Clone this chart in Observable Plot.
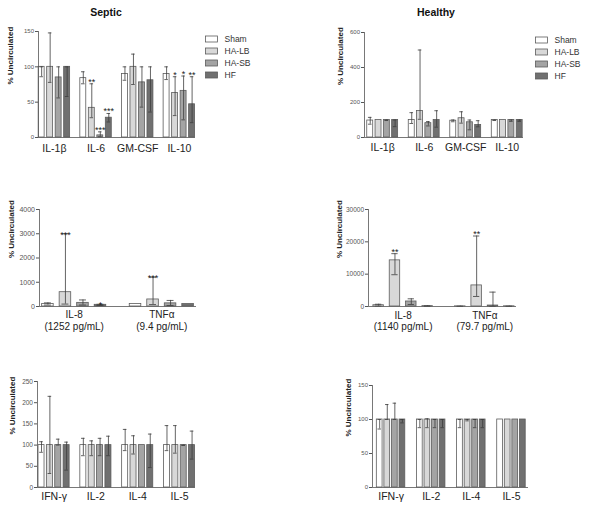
<!DOCTYPE html>
<html><head><meta charset="utf-8">
<script src="https://cdn.jsdelivr.net/npm/d3@7"></script>
<script src="https://cdn.jsdelivr.net/npm/@observablehq/plot@0.6"></script>
<style>
html,body{margin:0;padding:0;background:#fff;}
#root{position:relative;width:591px;height:511px;overflow:hidden;font-family:"Liberation Sans",Arial,sans-serif;background:#fff;}
.panel{position:absolute;}
.panel svg{display:block;overflow:visible;max-width:none !important;}
.title{position:absolute;font-weight:bold;font-size:10.5px;line-height:13px;text-align:center;width:100px;color:#111;}
</style></head><body><div id="root"></div>
<script>
// ---------- data ----------
const series = ["Sham", "HA-LB", "HA-SB", "HF"];

// Septic, top panel
const septicTopCats = ["IL-1β", "IL-6", "GM-CSF", "IL-10"];
const septicTopMean = [[100,100,85,100],[84,42,3,28],[90,100,78,81],[90,63,66,47]];
const septicTopLow  = [[86,78,56,58],[76,28,1,22],[81,75,43,36],[82,31,25,21]];
const septicTopHigh = [[100,148,100,100],[93,76,8,34],[100,118,100,100],[100,86,87,86]];
const septicTopStars = [["","","",""],["","**","***","***"],["","","",""],["","*","*","**"]];
const septicTopTicks = [0, 50, 100, 150];

// Healthy, top panel
const healthyTopCats = ["IL-1β", "IL-6", "GM-CSF", "IL-10"];
const healthyTopMean = [[97,100,100,100],[100,151,82,100],[96,110,87,72],[100,100,100,100]];
const healthyTopLow  = [[76,100,97,62],[80,104,66,59],[90,82,44,61],[97,100,92,92]];
const healthyTopHigh = [[115,100,100,100],[142,500,91,153],[100,147,100,96],[100,100,100,100]];
const healthyTopTicks = [0, 200, 400, 600];

// Septic, middle panel
const septicMidCats = ["IL-8", "TNFα"];
const septicMidConc = ["1252 pg/mL", "9.4 pg/mL"];
const septicMidMean = [[100,590,150,70],[100,290,130,100]];
const septicMidLow  = [[60,100,60,40],[100,80,40,100]];
const septicMidHigh = [[150,3000,270,90],[100,1210,250,100]];
const septicMidStars = [["","***","","*"],["","***","",""]];
const septicMidTicks = [0, 1000, 2000, 3000, 4000];

// Healthy, middle panel
const healthyMidCats = ["IL-8", "TNFα"];
const healthyMidConc = ["1140 pg/mL", "79.7 pg/mL"];
const healthyMidMean = [[400,14270,1550,100],[50,6520,300,50]];
const healthyMidLow  = [[100,9830,620,0],[0,3100,0,0]];
const healthyMidHigh = [[700,16340,2380,200],[100,21800,4450,100]];
const healthyMidStars = [["","**","",""],["","**","",""]];
const healthyMidTicks = [0, 10000, 20000, 30000];

// Septic, bottom panel
const septicBotCats = ["IFN-γ", "IL-2", "IL-4", "IL-5"];
const septicBotMean = [[100,100,100,100],[100,100,100,100],[100,100,100,100],[100,100,100,100]];
const septicBotLow  = [[83,33,100,41],[75,75,75,75],[87,79,100,47],[87,81,99,67]];
const septicBotHigh = [[108,215,114,107],[116,110,116,121],[137,122,100,126],[146,146,100,133]];
const septicBotTicks = [0, 50, 100, 150, 200, 250];

// Healthy, bottom panel
const healthyBotCats = ["IFN-γ", "IL-2", "IL-4", "IL-5"];
const healthyBotMean = [[100,100,100,100],[100,100,100,100],[100,100,100,100],[100,100,100,100]];
const healthyBotLow  = [[86,100,100,95],[88,88,88,88],[88,98,88,88],[100,100,100,100]];
const healthyBotHigh = [[100,122,124,100],[100,101,100,100],[100,100,100,100],[100,100,100,100]];
const healthyBotTicks = [0, 50, 100, 150];

const yLabel = "% Uncirculated";
const titles = ["Septic", "Healthy"];

// ---------- styles ----------
const fills = ["#ffffff", "#d8d8d8", "#a4a4a4", "#707070"];
const FONT = "'Liberation Sans', Arial, sans-serif";
const colorScale = {domain: series, range: fills};

function groupedPanel(d, p) {
  const rows = [];
  d.cats.forEach((c, gi) => series.forEach((s, si) => {
    const x1 = gi * p.stride + si;
    rows.push({cat: c, series: s, x1, x2: x1 + p.barW, xc: x1 + p.barW / 2,
      mean: d.mean[gi][si], low: d.low[gi][si], high: d.high[gi][si],
      star: d.stars ? d.stars[gi][si] : ""});
  }));
  const last = (d.cats.length - 1) * p.stride + (series.length - 1) + p.barW;
  const xDomain = [-p.pad0, last + p.padEnd];
  const centers = d.cats.map((c, gi) => gi * p.stride + ((series.length - 1) + p.barW) / 2);
  const labelAt = new Map(centers.map((x, i) => [x, d.labels[i]]));
  const cap = p.barW * 0.3;
  const errs = rows.filter(r => r.high > r.low);
  const line = "#555";
  const err = "#3c3c3c";
  return Plot.plot({
    width: p.w, height: p.h,
    marginLeft: p.mL, marginRight: p.mR, marginTop: p.mT, marginBottom: p.mB,
    style: {fontFamily: FONT, background: "transparent", color: "#444", overflow: "visible"},
    x: {domain: xDomain},
    y: {domain: d.yDomain},
    color: colorScale,
    marks: [
      Plot.rect(rows, {x1: "x1", x2: "x2", y1: 0, y2: "mean", fill: "series", stroke: "#5c5c5c", strokeWidth: 0.8}),
      Plot.ruleX(errs, {x: "xc", y1: "low", y2: "high", stroke: err, strokeWidth: 0.8}),
      Plot.ruleY(errs, {y: "high", x1: r => r.xc - cap, x2: r => r.xc + cap, stroke: err, strokeWidth: 0.8}),
      Plot.ruleY(errs, {y: "low", x1: r => r.xc - cap, x2: r => r.xc + cap, stroke: err, strokeWidth: 0.8}),
      Plot.text(rows.filter(r => r.star), {x: "xc", y: "high", text: "star", fontSize: p.starFont || 9, lineAnchor: "middle", dy: p.starDy || -2, fill: "#222"}),
      Plot.ruleY([d.yDomain[0]], {stroke: line, strokeWidth: 0.8}),
      Plot.ruleX([xDomain[0]], {stroke: line, strokeWidth: 0.8}),
      Plot.axisY({ticks: d.yTicks, tickFormat: v => String(v), tickSize: 3, tickPadding: 1.5, fontSize: p.yFont, label: null, stroke: line, fill: "#555"}),
      Plot.axisX({ticks: centers, tickFormat: v => labelAt.get(v), tickSize: 0, tickPadding: p.xPad,
        fontSize: p.xFont, lineHeight: p.lineHeight || 1.1, label: null, fill: "#222"}),
      Plot.text([yLabel], {text: v => v, frameAnchor: "left", rotate: -90, dx: p.labelX - p.mL,
        fontSize: 8, fontWeight: "bold", fill: "#222"})
    ]
  });
}

function legendPlot() {
  return Plot.plot({
    width: 70, height: 49, margin: 0,
    style: {fontFamily: FONT, background: "transparent", color: "#333", overflow: "visible"},
    x: {domain: [0, 70], axis: null},
    y: {type: "band", domain: series, padding: 0, axis: null},
    color: colorScale,
    marks: [
      Plot.barX(series, {y: s => s, x1: 0.5, x2: 12.5, fill: s => s, insetTop: 3, insetBottom: 3, stroke: "#5c5c5c", strokeWidth: 0.8}),
      Plot.text(series, {y: s => s, x: 19, text: s => s, textAnchor: "start", fontSize: 8.5, fill: "#333"})
    ]
  });
}

// ---------- layout ----------
const root = document.getElementById("root");
function place(node, left, top, w) {
  const div = document.createElement("div");
  div.className = "panel";
  div.style.left = left + "px";
  div.style.top = top + "px";
  div.style.width = w + "px";
  div.appendChild(node);
  root.appendChild(div);
}
function title(text, cx, top) {
  const div = document.createElement("div");
  div.className = "title";
  div.style.left = (cx - 50) + "px";
  div.style.top = top + "px";
  div.textContent = text;
  root.appendChild(div);
}

title(titles[0], 106, 6);
title(titles[1], 436, 6);

place(groupedPanel(
  {cats: septicTopCats, labels: septicTopCats, mean: septicTopMean, low: septicTopLow, high: septicTopHigh, stars: septicTopStars, yDomain: [0, 150], yTicks: septicTopTicks},
  {w: 200, h: 140, mL: 38, mR: 5, mT: 11, mB: 23, stride: 4.9, barW: 0.7, pad0: 0.02, padEnd: 0.05, yFont: 6, xFont: 10.5, xPad: 6, labelX: 10.3, starDy: -2}
), 0, 20, 200);

place(groupedPanel(
  {cats: healthyTopCats, labels: healthyTopCats, mean: healthyTopMean, low: healthyTopLow, high: healthyTopHigh, yDomain: [0, 600], yTicks: healthyTopTicks},
  {w: 210, h: 140, mL: 44, mR: 7, mT: 12, mB: 23, stride: 5, barW: 0.72, pad0: 0.33, padEnd: 0.1, yFont: 6, xFont: 10.5, xPad: 5.5, labelX: 20}
), 320, 20, 210);

place(groupedPanel(
  {cats: septicMidCats, labels: septicMidCats.map((c, i) => c + "\n(" + septicMidConc[i] + ")"), mean: septicMidMean, low: septicMidLow, high: septicMidHigh, stars: septicMidStars, yDomain: [0, 4000], yTicks: septicMidTicks},
  {w: 200, h: 145, mL: 39, mR: 4, mT: 14, mB: 34, stride: 5, barW: 0.66, pad0: 0.15, padEnd: 0.15, yFont: 7, xFont: 10, xPad: 3.5, lineHeight: 1.17, labelX: 10.5, starDy: 1}
), 0, 195, 200);

place(groupedPanel(
  {cats: healthyMidCats, labels: healthyMidCats.map((c, i) => c + "\n(" + healthyMidConc[i] + ")"), mean: healthyMidMean, low: healthyMidLow, high: healthyMidHigh, stars: healthyMidStars, yDomain: [0, 30000], yTicks: healthyMidTicks},
  {w: 200, h: 145, mL: 48, mR: 4, mT: 14, mB: 34, stride: 5, barW: 0.64, pad0: 0.3, padEnd: 0.12, yFont: 6.5, xFont: 10, xPad: 3.8, lineHeight: 1.17, labelX: 19.3, starDy: -2}
), 320, 195, 200);

place(groupedPanel(
  {cats: septicBotCats, labels: septicBotCats, mean: septicBotMean, low: septicBotLow, high: septicBotHigh, yDomain: [0, 250], yTicks: septicBotTicks},
  {w: 200, h: 141, mL: 37, mR: 5, mT: 11, mB: 24, stride: 5, barW: 0.72, pad0: 0.12, padEnd: 0.05, yFont: 6.5, xFont: 10.5, xPad: 4, labelX: 11.7}
), 0, 370, 200);

place(groupedPanel(
  {cats: healthyBotCats, labels: healthyBotCats, mean: healthyBotMean, low: healthyBotLow, high: healthyBotHigh, yDomain: [0, 150], yTicks: healthyBotTicks},
  {w: 215, h: 141, mL: 52, mR: 7, mT: 15, mB: 24, stride: 5.3, barW: 0.76, pad0: 0.57, padEnd: 0.37, yFont: 6, xFont: 10.5, xPad: 4, labelX: 28.3}
), 320, 370, 215);

place(legendPlot(), 205, 32, 70);
place(legendPlot(), 535, 33, 70);
</script>
</body></html>
